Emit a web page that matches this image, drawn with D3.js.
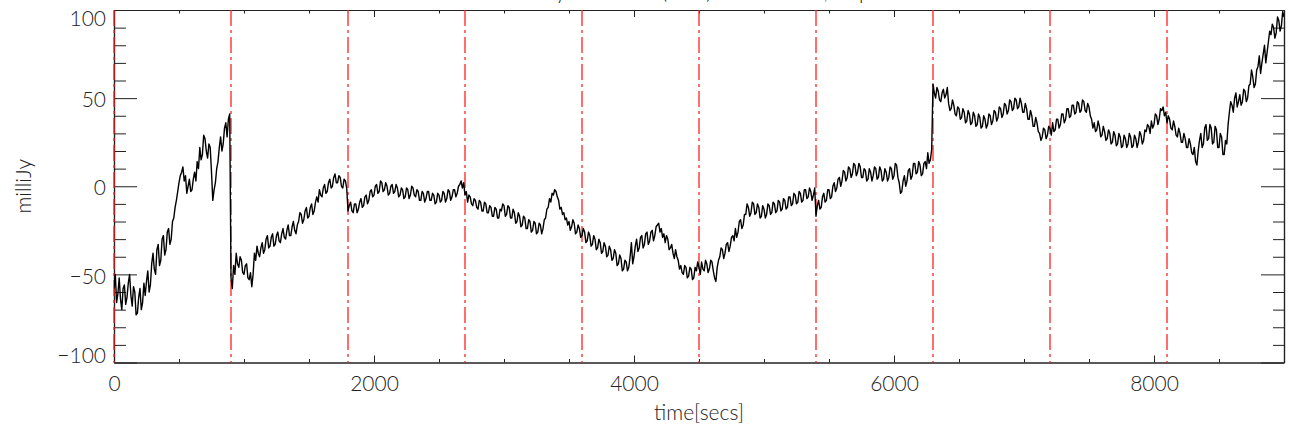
<!DOCTYPE html>
<html>
<head>
<meta charset="utf-8">
<script src="https://cdn.jsdelivr.net/npm/d3@7"></script>
<style>
  html, body { margin: 0; padding: 0; background: #fff; }
  svg { display: block; }
  text { font-family: Lato, "Open Sans", "DejaVu Sans", sans-serif; font-weight: 300; fill: #222; }
</style>
</head>
<body>
<svg id="chart" width="1293" height="432"></svg>
<script>
// ---- data ----
const titleText = "milliJy in band A (RCP) source total, all pts";
const xLabel = "time[secs]";
const yLabel = "milliJy";
const xMajorTicks = [0, 2000, 4000, 6000, 8000];
const xTickLabels = ["0", "2000", "4000", "6000", "8000"];
const yMajorTicks = [-100, -50, 0, 50, 100];
const yTickLabels = ["\u2212100", "\u221250", "0", "50", "100"];
const scanBoundaries = [0, 900, 1800, 2700, 3600, 4500, 5400, 6300, 7200, 8100];
const sampleStep = 10; // seconds between samples
// flux values (milliJy), one every 10 s from t = 0 to t = 9000
const flux = [
  // 0 - 890
  -58,-50,-66,-61,-52,-64,-70,-58,-56,-67,
  -63,-55,-50,-62,-68,-57,-60,-73,-72,-63,
  -58,-70,-66,-55,-62,-54,-48,-60,-56,-44,
  -38,-47,-50,-36,-33,-45,-42,-30,-28,-39,
  -36,-26,-24,-33,-30,-20,-18,-12,-8,-3,
  2,6,8,11,3,6,-4,0,4,-3,
  -2,4,8,3,14,10,22,15,18,29,
  27,20,16,24,22,8,-8,-2,2,10,
  14,22,28,20,24,33,36,28,38,41,
  // 900 - 1790
  -52,-58,-45,-50,-38,-44,-46,-40,-42,-49,
  -50,-45,-44,-52,-53,-49,-57,-50,-38,-42,
  -34,-38,-40,-35,-32,-38,-36,-30,-28,-35,
  -34,-29,-27,-34,-33,-28,-26,-31,-32,-27,
  -24,-29,-30,-25,-22,-28,-28,-23,-20,-25,
  -27,-22,-20,-15,-16,-21,-19,-14,-12,-18,
  -17,-12,-10,-16,-14,-9,-6,-9,-2,-5,
  -6,-1,1,-4,-3,2,4,-1,0,5,
  7,2,2,6,5,0,-1,4,3,-1,
  // 1800 - 2690
  -14,-11,-9,-14,-15,-10,-10,-15,-13,-9,
  -7,-12,-11,-6,-5,-10,-8,-3,-2,-6,
  -5,0,1,-4,-3,3,2,-3,-2,2,
  0,-5,-4,0,1,-4,-3,1,-1,-6,
  -5,-1,-2,-7,-6,-1,-2,-7,-5,0,
  -1,-5,-6,-2,-3,-8,-8,-3,-4,-9,
  -7,-3,-3,-8,-8,-4,-5,-10,-9,-4,
  -5,-9,-8,-3,-4,-9,-7,-2,-3,-8,
  -6,-2,-2,-6,-4,0,1,3,-1,2,
  // 2700 - 3590
  -5,-3,-9,-5,-6,-10,-11,-7,-8,-12,
  -13,-8,-9,-14,-14,-9,-10,-15,-15,-11,
  -12,-17,-17,-12,-13,-18,-18,-13,-14,-10,
  -11,-17,-16,-11,-12,-18,-18,-13,-15,-21,
  -20,-15,-17,-23,-22,-17,-18,-24,-24,-19,
  -20,-26,-25,-20,-21,-27,-26,-21,-22,-27,
  -24,-19,-18,-13,-12,-7,-9,-4,-5,-2,
  -3,-6,-8,-13,-12,-16,-15,-19,-18,-22,
  -20,-25,-23,-19,-21,-27,-26,-22,-24,-29,
  // 3600 - 4490
  -28,-24,-26,-32,-31,-26,-28,-34,-33,-28,
  -30,-36,-35,-30,-32,-38,-37,-32,-34,-40,
  -39,-34,-36,-42,-41,-36,-38,-45,-44,-39,
  -41,-48,-47,-42,-43,-48,-46,-40,-32,-44,
  -40,-34,-30,-37,-35,-29,-28,-35,-33,-27,
  -26,-33,-31,-26,-25,-31,-28,-23,-22,-21,
  -26,-24,-29,-27,-32,-28,-30,-36,-35,-33,
  -38,-41,-36,-40,-42,-47,-45,-49,-50,-45,
  -46,-52,-51,-46,-47,-53,-52,-46,-48,-43,
  // 4500 - 5390
  -46,-50,-43,-47,-48,-42,-44,-49,-47,-42,
  -43,-48,-52,-54,-46,-42,-40,-35,-36,-41,
  -38,-33,-32,-37,-34,-29,-28,-31,-24,-29,
  -26,-20,-19,-24,-22,-16,-16,-10,-12,-17,
  -15,-9,-10,-16,-15,-10,-12,-18,-17,-11,
  -13,-18,-16,-10,-11,-16,-15,-9,-10,-15,
  -14,-8,-9,-14,-13,-7,-8,-13,-12,-6,
  -6,-11,-10,-4,-5,-10,-9,-3,-4,-9,
  -8,-2,-2,-7,-6,-1,-3,-8,-5,-1,
  // 5400 - 6290
  -17,-11,-8,-13,-12,-6,-4,-9,-8,-2,
  -2,-7,-6,0,2,-3,-1,4,5,0,
  3,9,8,3,5,11,10,5,7,13,
  12,6,8,13,11,5,5,10,9,3,
  4,10,8,3,6,11,10,4,5,11,
  9,3,4,10,8,3,5,11,10,4,
  6,13,12,5,2,-4,-3,3,6,0,
  3,9,10,4,6,13,13,7,8,14,
  12,6,7,13,14,10,19,13,15,21,
  // 6300 - 7190
  58,53,50,56,54,49,48,53,55,50,
  52,56,47,43,44,49,46,41,40,45,
  44,38,39,44,42,36,37,43,41,35,
  36,42,40,34,35,41,39,33,34,40,
  38,33,35,41,40,35,37,43,42,37,
  39,45,44,39,41,47,46,41,43,49,
  48,43,44,50,49,44,45,50,47,42,
  42,47,44,38,38,43,40,34,34,39,
  36,31,30,26,28,33,32,27,29,34,
  // 7200 - 8090
  33,29,36,31,32,38,38,33,35,41,
  41,36,38,44,44,39,40,46,46,41,
  42,48,47,42,43,49,48,43,42,47,
  45,40,38,33,36,31,32,37,34,28,
  29,34,31,26,27,32,30,24,25,31,
  29,23,24,30,28,22,23,29,27,22,
  24,30,28,22,23,29,27,22,25,31,
  29,24,26,32,31,35,34,30,37,33,
  35,41,40,35,38,44,43,45,40,42,
  // 8100 - 9000
  36,40,38,33,32,37,34,29,28,33,
  30,25,25,30,27,22,22,27,24,19,
  18,22,14,12,20,26,30,22,24,33,
  35,26,27,35,33,24,25,34,32,22,
  22,30,28,18,18,26,24,35,42,48,
  46,42,50,53,45,48,52,46,48,55,
  54,48,50,57,58,66,62,56,58,66,
  68,74,64,70,75,80,70,76,82,88,
  86,92,90,84,87,96,94,88,91,99,
  96
];

// ---- layout ----
const svg = d3.select("#chart");
const margin = { left: 114, right: 1284, top: 10, bottom: 362.5 };
const x = d3.scaleLinear().domain([0, 9000]).range([margin.left, margin.right]);
const y = d3.scaleLinear().domain([-100, 100]).range([margin.bottom, margin.top]);
const times = flux.map((_, i) => i * sampleStep);

svg.append("defs").append("clipPath").attr("id", "plotclip")
  .append("rect")
  .attr("x", margin.left).attr("y", margin.top)
  .attr("width", margin.right - margin.left).attr("height", margin.bottom - margin.top);

// title (cut off at the top of the picture, as in the reference)
svg.append("text")
  .attr("x", (margin.left + margin.right) / 2)
  .attr("y", -1)
  .attr("text-anchor", "middle")
  .style("font-size", "21px")
  .text(titleText);

// axes
const axisColor = "#222";
function styleAxis(g) {
  g.selectAll("path.domain").attr("stroke", axisColor).attr("stroke-width", 1.2);
  g.selectAll(".tick line").attr("stroke", axisColor).attr("stroke-width", 1);
  g.selectAll(".tick text").style("font-size", "21px").attr("fill", "#222")
    .style("font-family", "Lato, 'Open Sans', 'DejaVu Sans', sans-serif").style("font-weight", 300);
}

const xMinor = d3.range(0, 9001, 500).filter(v => !xMajorTicks.includes(v));
const yMinor = d3.range(-100, 101, 10).filter(v => !yMajorTicks.includes(v));

// bottom
svg.append("g").attr("transform", `translate(0,${margin.bottom})`)
  .call(d3.axisBottom(x).tickValues(xMajorTicks).tickFormat((d, i) => xTickLabels[i])
    .tickSizeInner(-7).tickSizeOuter(0).tickPadding(14))
  .call(styleAxis);
svg.append("g").attr("transform", `translate(0,${margin.bottom})`)
  .call(d3.axisBottom(x).tickValues(xMinor).tickFormat("").tickSizeInner(-3.5).tickSizeOuter(0))
  .call(styleAxis);
// top
svg.append("g").attr("transform", `translate(0,${margin.top})`)
  .call(d3.axisTop(x).tickValues(xMajorTicks).tickFormat("").tickSizeInner(-7).tickSizeOuter(0))
  .call(styleAxis);
svg.append("g").attr("transform", `translate(0,${margin.top})`)
  .call(d3.axisTop(x).tickValues(xMinor).tickFormat("").tickSizeInner(-3.5).tickSizeOuter(0))
  .call(styleAxis);
// left
svg.append("g").attr("transform", `translate(${margin.left},0)`)
  .call(d3.axisLeft(y).tickValues(yMajorTicks).tickFormat((d, i) => yTickLabels[i])
    .tickSizeInner(-23).tickSizeOuter(0).tickPadding(8))
  .call(styleAxis)
  .call(g => g.selectAll(".tick text").attr("y", d => d === 100 ? 9 : (d === -100 ? -7 : 2)));
svg.append("g").attr("transform", `translate(${margin.left},0)`)
  .call(d3.axisLeft(y).tickValues(yMinor).tickFormat("").tickSizeInner(-12).tickSizeOuter(0))
  .call(styleAxis);
// right
svg.append("g").attr("transform", `translate(${margin.right},0)`)
  .call(d3.axisRight(y).tickValues(yMajorTicks).tickFormat("").tickSizeInner(-23).tickSizeOuter(0))
  .call(styleAxis);
svg.append("g").attr("transform", `translate(${margin.right},0)`)
  .call(d3.axisRight(y).tickValues(yMinor).tickFormat("").tickSizeInner(-11).tickSizeOuter(0))
  .call(styleAxis);

// scan boundaries (red dash-dot), drawn over the axes as in the reference
svg.append("g").selectAll("line").data(scanBoundaries).join("line")
  .attr("x1", d => x(d)).attr("x2", d => x(d))
  .attr("y1", margin.top).attr("y2", margin.bottom)
  .attr("stroke", "#ff2020")
  .attr("stroke-width", 1.3)
  .attr("stroke-dasharray", "16,4,3,4");

// data line
const line = d3.line().x((d, i) => x(times[i])).y(d => y(d));
svg.append("path")
  .datum(flux)
  .attr("clip-path", "url(#plotclip)")
  .attr("fill", "none")
  .attr("stroke", "#000")
  .attr("stroke-width", 1.4)
  .attr("stroke-linejoin", "round")
  .attr("d", line);

// axis titles
svg.append("text")
  .attr("x", (margin.left + margin.right) / 2)
  .attr("y", 420)
  .attr("text-anchor", "middle")
  .style("font-size", "21px")
  .text(xLabel);
svg.append("text")
  .attr("transform", `translate(31,${(margin.top + margin.bottom) / 2}) rotate(-90)`)
  .attr("text-anchor", "middle")
  .style("font-size", "21px")
  .text(yLabel);
</script>
</body>
</html>
